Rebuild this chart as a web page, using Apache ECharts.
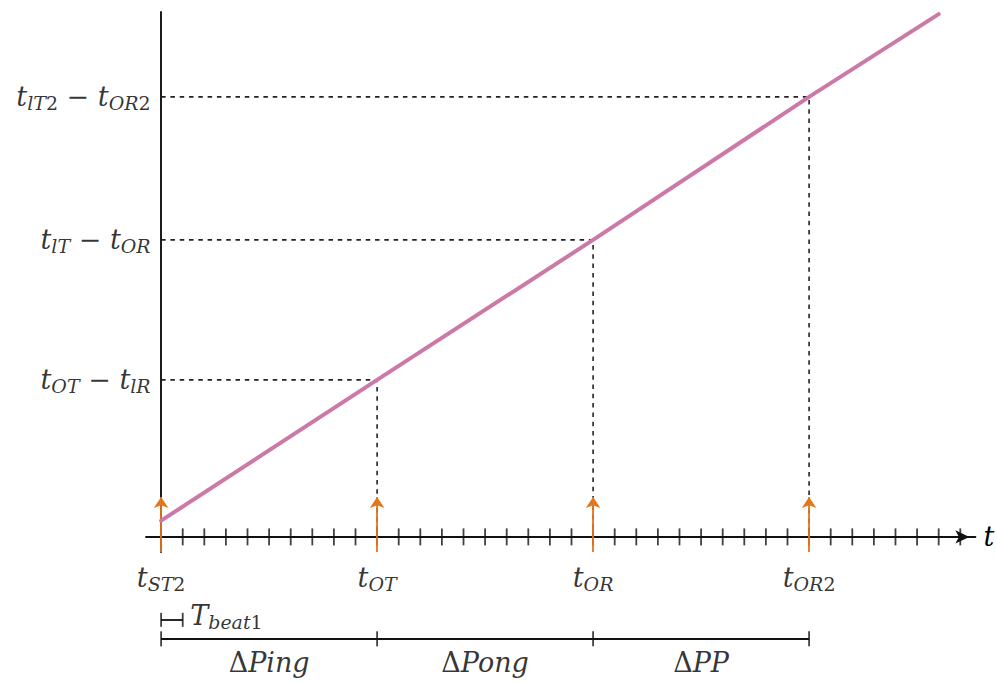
<!DOCTYPE html>
<html>
<head>
<meta charset="utf-8">
<script src="https://cdn.jsdelivr.net/npm/echarts@6/dist/echarts.min.js"></script>
<style>
html,body{margin:0;padding:0;background:#fff;}
#chart{width:997px;height:682px;}
</style>
</head>
<body>
<div id="chart"></div>
<script>
// ---- data ----
const tickPositions = [1,2,3,4,5,6,7,8,9,10,11,12,13,14,15,16,17,18,19,20,21,22,23,24,25,26,27,28,29,30,31,32,33,34,35,36,37];
const eventTimes = [0, 10, 20, 30];
const eventNames = ['{b|t}{s|ST}{sd|2}', '{b|t}{s|OT}', '{b|t}{s|OR}', '{b|t}{s|OR}{sd|2}'];
const lineX = [0, 10, 20, 30, 36];
const lineY = [0.75, 7.27, 13.75, 20.37, 24.2];
const guideX = [10, 20, 30];
const guideY = [7.27, 13.75, 20.37];
const guideLabels = [
  '{b|t}{s|OT}{r| − }{b|t}{s|lR}',
  '{b|t}{s|lT}{r| − }{b|t}{s|OR}',
  '{b|t}{s|lT}{sd|2}{r| − }{b|t}{s|OR}{sd|2}'
];
const beatSpan = [0, 1];
const beatLabel = '{b|T}{s|beat}{sd|1}';
const intervalBounds = [0, 10, 20, 30];
const intervalLabels = ['{r|Δ}{b|Ping}', '{r|Δ}{b|Pong}', '{r|Δ}{b|PP}'];

// ---- layout / style constants ----
const SERIF = "'DejaVu Serif', 'Liberation Serif', serif";
const rich = {
  b:  {fontFamily: SERIF, fontStyle: 'italic', fontSize: 27, lineHeight: 32, color: '#000'},
  r:  {fontFamily: SERIF, fontStyle: 'normal', fontSize: 27, lineHeight: 32, color: '#000'},
  s:  {fontFamily: SERIF, fontStyle: 'italic', fontSize: 19, lineHeight: 16, verticalAlign: 'bottom', color: '#000'},
  sd: {fontFamily: SERIF, fontStyle: 'normal', fontSize: 19, lineHeight: 16, verticalAlign: 'bottom', color: '#000'}
};
const AXIS_MIN = -0.7;
const ARROW_TOP = 1.85;
const BEAT_Y = -3.84;
const INTERVAL_Y = -4.72;
const INK = '#111';
const PINK = '#cc79a7';
const ORANGE = '#e4761c';
const transparent = 'rgba(0,0,0,0)';

// ---- build series ----
const lineData = lineX.map((x, i) => [x, lineY[i]]);
const guideLines = guideX.map((x, i) => ({coords: [[0, guideY[i]], [x, guideY[i]], [x, 0]]}));
const arrowLines = eventTimes.map(x => ({coords: [[x, AXIS_MIN], [x, ARROW_TOP]]}));
const tickData = tickPositions.map(x => [x, 0]);

const bracketSegs = [];
for (let i = 0; i < intervalBounds.length - 1; i++) {
  bracketSegs.push({coords: [[intervalBounds[i], INTERVAL_Y], [intervalBounds[i + 1], INTERVAL_Y]]});
}
bracketSegs.push({coords: [[beatSpan[0], BEAT_Y], [beatSpan[1], BEAT_Y]]});
const bigCaps = intervalBounds.map(x => [x, INTERVAL_Y]);
const smallCaps = beatSpan.map(x => [x, BEAT_Y]);
const intervalLabelData = intervalLabels.map((t, i) => ({
  value: [(intervalBounds[i] + intervalBounds[i + 1]) / 2, INTERVAL_Y], name: t
}));

const chart = echarts.init(document.getElementById('chart'), null, {renderer: 'svg'});
chart.setOption({
  animation: false,
  backgroundColor: '#fff',
  grid: {left: 146, top: 12, width: 829.4, height: 540, containLabel: false, outerBoundsMode: 'none'},
  xAxis: {
    type: 'value', min: AXIS_MIN, max: 37.7,
    axisLine: {show: true, onZero: true, symbol: ['none', 'arrow'], symbolSize: [10, 14], symbolOffset: [0, -6],
      lineStyle: {color: INK, width: 1.9}},
    axisTick: {show: false}, axisLabel: {show: false}, splitLine: {show: false},
    name: 't', nameLocation: 'end', nameGap: 8,
    nameTextStyle: {fontFamily: SERIF, fontStyle: 'italic', fontSize: 27, color: '#000', verticalAlign: 'middle'}
  },
  yAxis: {
    type: 'value', min: AXIS_MIN, max: 24.3,
    axisLine: {show: true, onZero: true, lineStyle: {color: INK, width: 1.9}},
    axisTick: {show: false}, axisLabel: {show: false}, splitLine: {show: false}
  },
  series: [
    {
      type: 'lines', coordinateSystem: 'cartesian2d', polyline: true, silent: true, clip: false, z: 2,
      lineStyle: {color: '#222', width: 1.6, type: [4.5, 4.8], opacity: 1},
      data: guideLines
    },
    {
      type: 'scatter', silent: true, clip: false, z: 3,
      symbol: 'rect', symbolSize: [1.8, 17],
      itemStyle: {color: INK},
      data: tickData
    },
    {
      type: 'lines', coordinateSystem: 'cartesian2d', silent: true, clip: false, z: 4,
      symbol: ['none', 'arrow'], symbolSize: [8, 11],
      lineStyle: {color: ORANGE, width: 1.8, opacity: 1},
      data: arrowLines
    },
    {
      type: 'line', silent: true, clip: false, z: 5,
      showSymbol: false, symbol: 'none',
      lineStyle: {color: PINK, width: 4, cap: 'round'},
      data: lineData
    },
    {
      type: 'scatter', silent: true, clip: false, z: 6,
      symbolSize: 1, itemStyle: {color: transparent},
      label: {show: true, position: 'left', distance: 10, formatter: p => p.name, rich: rich},
      data: guideY.map((y, i) => ({value: [0, y], name: guideLabels[i]}))
    },
    {
      type: 'scatter', silent: true, clip: false, z: 6,
      symbolSize: 1, itemStyle: {color: transparent},
      label: {show: true, position: 'bottom', distance: 24, formatter: p => p.name, rich: rich},
      data: eventTimes.map((x, i) => ({value: [x, 0], name: eventNames[i]}))
    },
    {
      type: 'lines', coordinateSystem: 'cartesian2d', silent: true, clip: false, z: 3,
      lineStyle: {color: INK, width: 1.8, opacity: 1},
      data: bracketSegs
    },
    {
      type: 'scatter', silent: true, clip: false, z: 3,
      symbol: 'rect', symbolSize: [1.8, 15], itemStyle: {color: INK},
      data: bigCaps
    },
    {
      type: 'scatter', silent: true, clip: false, z: 3,
      symbol: 'rect', symbolSize: [1.8, 14], itemStyle: {color: INK},
      data: smallCaps
    },
    {
      type: 'scatter', silent: true, clip: false, z: 6,
      symbolSize: 1, itemStyle: {color: transparent},
      label: {show: true, position: 'right', distance: 7, offset: [0, -4], formatter: p => p.name, rich: rich},
      data: [{value: [beatSpan[1], BEAT_Y], name: beatLabel}]
    },
    {
      type: 'scatter', silent: true, clip: false, z: 6,
      symbolSize: 1, itemStyle: {color: transparent},
      label: {show: true, position: 'bottom', distance: 7, formatter: p => p.name, rich: rich},
      data: intervalLabelData
    }
  ]
});
</script>
</body>
</html>
